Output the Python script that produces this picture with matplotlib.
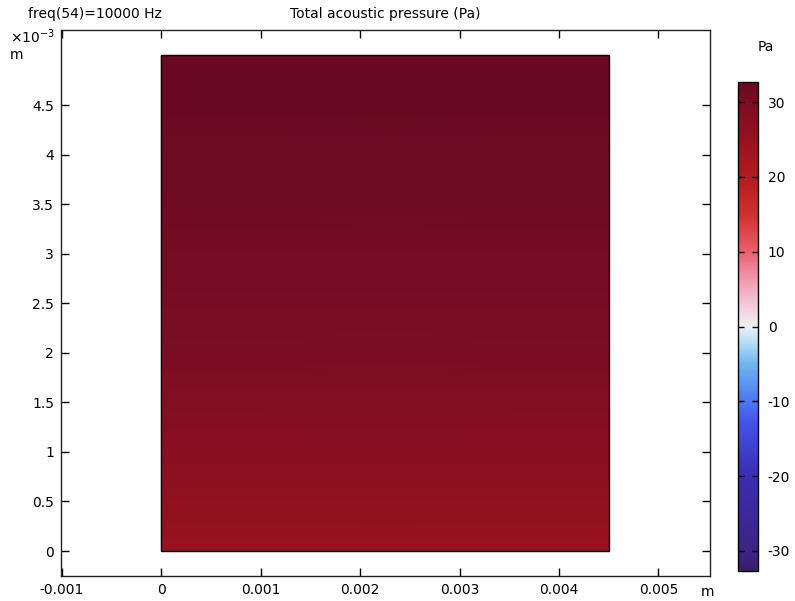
import numpy as np
import matplotlib
matplotlib.use("Agg")
import matplotlib.pyplot as plt
from matplotlib.colors import LinearSegmentedColormap, Normalize

plt.rcParams['font.family'] = ['DejaVu Sans']
plt.rcParams['axes.unicode_minus'] = False

# ---- data ----
x_edges = [0.0, 0.0045]                     # m
y_levels = [0.0, 0.5, 1.0, 1.5, 2.0, 2.5, 3.0, 3.5, 4.0, 4.5, 5.0]   # 1e-3 m
pressure = [25.0, 26.3, 27.5, 28.5, 29.4, 30.2, 30.9, 31.5, 31.9, 32.2, 32.4]  # Pa
clim = (-32.7, 32.7)

x_ticks = [-0.001, 0.0, 0.001, 0.002, 0.003, 0.004, 0.005]
x_ticklabels = ["-0.001", "0", "0.001", "0.002", "0.003", "0.004", "0.005"]
y_ticks = [0, 0.5, 1, 1.5, 2, 2.5, 3, 3.5, 4, 4.5]
y_ticklabels = ["0", "0.5", "1", "1.5", "2", "2.5", "3", "3.5", "4", "4.5"]
cb_ticks = [-30, -20, -10, 0, 10, 20, 30]
cb_ticklabels = ["-30", "-20", "-10", "0", "10", "20", "30"]

title_left = "freq(54)=10000 Hz"
title_center = "Total acoustic pressure (Pa)"
unit = "Pa"

# COMSOL-like "Wave" colormap
cm_nodes = [(-32.7, "#3a1e6c"), (-30, "#3c2482"), (-20, "#3b2db0"), (-13, "#4452e6"),
            (-10, "#4a78f0"), (-5, "#6fb6f0"), (-2, "#b8def4"), (0, "#f0f0f0"),
            (3, "#f3c6da"), (7, "#f08ea6"), (10, "#e8606e"), (15, "#d03030"),
            (20, "#b01c20"), (25, "#98121e"), (30, "#7a0d24"), (32.7, "#680a22")]
span = clim[1] - clim[0]
cmap = LinearSegmentedColormap.from_list(
    "wave", [((v - clim[0]) / span, c) for v, c in cm_nodes])
norm = Normalize(*clim)

FS = 10

fig = plt.figure(figsize=(7.95, 6.01), dpi=100)
ax = fig.add_axes([61/795, 1-576/601, (710-61)/795, (576-30)/601])

X, Y = np.meshgrid(np.array(x_edges), np.array(y_levels))
P = np.repeat(np.array(pressure)[:, None], len(x_edges), axis=1)
ax.pcolormesh(X, Y, P, cmap=cmap, norm=norm, shading='gouraud')
ax.add_patch(plt.Rectangle((x_edges[0], y_levels[0]), x_edges[-1]-x_edges[0],
                           y_levels[-1]-y_levels[0], fill=False, ec='black', lw=1.0))

ax.set_xlim(-0.00101, 0.00552)
ax.set_ylim(-0.252, 5.257)
ax.set_xticks(x_ticks)
ax.set_xticklabels(x_ticklabels)
ax.set_yticks(y_ticks)
ax.set_yticklabels(y_ticklabels)
ax.tick_params(direction='in', length=6, width=1, top=True, right=True,
               labelsize=FS, colors='black', pad=5)
for s in ax.spines.values():
    s.set_linewidth(1.0)
    s.set_color('#222222')

fig.text(28/795, 1-14/601, title_left, fontsize=FS, va='center', ha='left')
fig.text(385.5/795, 1-14/601, title_center, fontsize=FS, va='center', ha='center')
fig.text(10/795, 1-37/601, "×10$^{-3}$", fontsize=FS, va='center', ha='left')
fig.text(10/795, 1-55/601, "m", fontsize=FS, va='center', ha='left')
fig.text(707/795, 1-592/601, "m", fontsize=FS, va='center', ha='center')
fig.text(766/795, 1-47/601, unit, fontsize=FS, va='center', ha='center')

cax = fig.add_axes([738/795, 1-571/601, 20/795, 489/601])
sm = matplotlib.cm.ScalarMappable(norm=norm, cmap=cmap)
cb = fig.colorbar(sm, cax=cax)
cb.set_ticks(cb_ticks)
cb.set_ticklabels(cb_ticklabels)
cax.tick_params(direction='in', length=4, width=1, left=True, right=True,
                labelsize=FS, pad=7)
cb.outline.set_linewidth(1.0)

fig.savefig("out.png", dpi=100)
